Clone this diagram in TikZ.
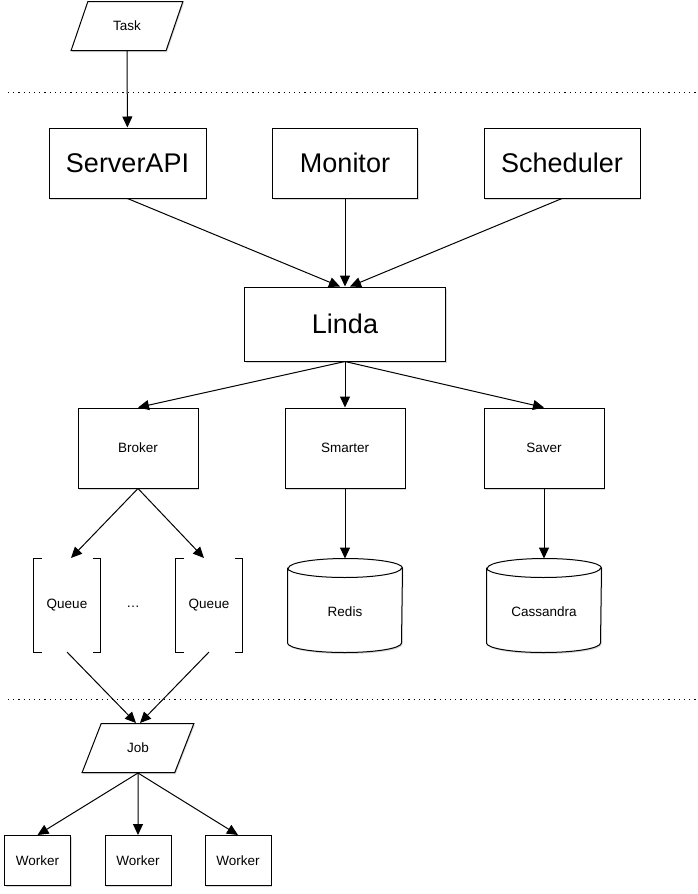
\documentclass[tikz,border=0pt]{standalone}
\usepackage{fontspec}
\setmainfont{Liberation Sans}
\usetikzlibrary{arrows.meta, shapes.geometric, shadows, backgrounds, positioning}

\begin{document}
\begin{tikzpicture}[x=1pt,y=-1pt,line width=1pt,
	>={Triangle[length=11pt,width=10pt]},
	shade/.style={drop shadow={shadow xshift=1pt,shadow yshift=-1.5pt,opacity=0.3}},
	bigbox/.style={draw,fill=white,shade,minimum height=70pt,font=\fontsize{27}{30}\selectfont},
	smallbox/.style={draw,fill=white,shade,minimum width=120pt,minimum height=80pt,font=\fontsize{13.5}{16}\selectfont},
	workerbox/.style={draw,fill=white,shade,minimum width=66pt,minimum height=50pt,font=\fontsize{13.5}{16}\selectfont},
	queuebox/.style={fill=white,minimum width=66pt,minimum height=93pt,font=\fontsize{13.5}{16}\selectfont},
	database/.style={minimum width=114pt,minimum height=93pt,font=\fontsize{13.5}{16}\selectfont},
	io/.style={draw,fill=white,shade,trapezium,trapezium left angle=66,trapezium right angle=114,trapezium stretches=true,minimum width=112pt,minimum height=49pt,font=\fontsize{13.5}{16}\selectfont},
	layer/.style={dash pattern=on 1.2pt off 4pt}]
		\useasboundingbox (0,0) rectangle (698,894);
		
		\node[io] (task) at (127,26) {Task};
		\draw[layer] (8,92) -- (698,92);
		
		\node[bigbox,minimum width=157pt] (serverapi) at (127.5,163) {ServerAPI};
		\node[bigbox,minimum width=145pt] (monitor) at (345,163) {Monitor};
		\node[bigbox,minimum width=156pt] (scheduler) at (562,163) {Scheduler};
		\node[bigbox,minimum width=201pt,minimum height=74pt] (linda) at (345,324) {Linda};
		
		\node[smallbox] (broker) at (138,448) {Broker};
		\node[smallbox] (smarter) at (345,448) {Smarter};
		\node[smallbox] (saver) at (544,448) {Saver};
		
		\node[queuebox] (queue1) at (67,605) {Queue};
		\node[queuebox] (queue2) at (209,605) {Queue};
		\node[font=\fontsize{13.5}{16}\selectfont] (dots) at (133,607) {\dots};
		\foreach \q in {queue1,queue2}
			\draw ([xshift=8pt]\q.north west) -- (\q.north west) -- (\q.south west) -- ([xshift=8pt]\q.south west)
				([xshift=-8pt]\q.north east) -- (\q.north east) -- (\q.south east) -- ([xshift=-8pt]\q.south east);
		
		\node[database] (redis) at (345,605.5) {\raisebox{-11pt}[0pt][0pt]{Redis}};
		\node[database] (cassandra) at (544,605.5) {\raisebox{-11pt}[0pt][0pt]{Cassandra}};
		\begin{scope}[on background layer]
			\foreach \d in {redis,cassandra} {
				\fill[white,shade] ([yshift=-9.5pt]\d.north west) -- ([yshift=9.5pt]\d.south west)
					arc[start angle=180,end angle=360,x radius=57pt,y radius=9.5pt] -- ([yshift=-9.5pt]\d.north east)
					arc[start angle=0,end angle=180,x radius=57pt,y radius=9.5pt] -- cycle;
			}
		\end{scope}
		\foreach \d in {redis,cassandra}
			\draw ([yshift=-9.5pt]\d.north west) -- ([yshift=9.5pt]\d.south west)
				arc[start angle=180,end angle=360,x radius=57pt,y radius=9.5pt] -- ([yshift=-9.5pt]\d.north east)
				arc[start angle=0,end angle=180,x radius=57pt,y radius=9.5pt] -- cycle
				([yshift=-9.5pt]\d.north west) arc[start angle=180,end angle=360,x radius=57pt,y radius=9.5pt];
		
		\draw[layer] (8,699) -- (698,699);
		\node[io] (job) at (138,748) {Job};
		
		\node[workerbox] (worker1) at (37.5,860.5) {Worker};
		\node[workerbox] (worker2) at (138,860.5) {Worker};
		\node[workerbox] (worker3) at (238,860.5) {Worker};
		
		\draw[->] (task) -- (serverapi);
		\draw[->] (serverapi.south) -- ([xshift=-5pt]linda.north);
		\draw[->] (monitor.south) -- (linda.north);
		\draw[->] (scheduler.south) -- ([xshift=5pt]linda.north);
		\foreach \n in {broker,smarter,saver}
			\draw[->] (linda.south) -- (\n.north);
		\draw[->] (broker.south) -- ([xshift=4pt]queue1.north);
		\draw[->] (broker.south) -- ([xshift=-5pt]queue2.north);
		\draw[->] (smarter) -- (redis);
		\draw[->] (saver) -- (cassandra);
		\draw[->] (queue1.south) -- ([xshift=-2pt]job.north);
		\draw[->] (queue2.south) -- ([xshift=2pt]job.north);
		\foreach \w in {worker1,worker2,worker3}
			\draw[->] (job.south) -- (\w.north);
		
\end{tikzpicture}
\end{document}
